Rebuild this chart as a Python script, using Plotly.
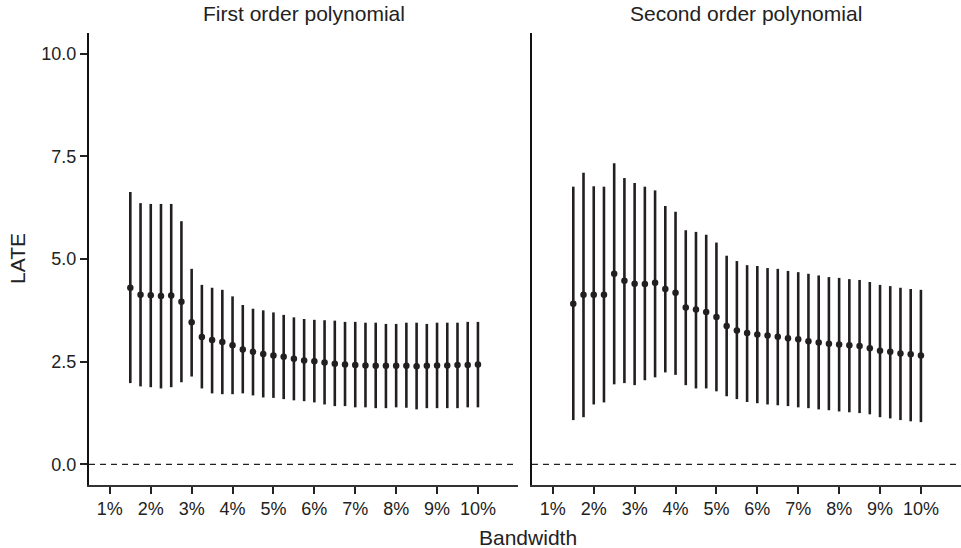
import plotly.graph_objects as go

bandwidth = [1.5, 1.75, 2.0, 2.25, 2.5, 2.75, 3.0, 3.25, 3.5, 3.75, 4.0, 4.25, 4.5, 4.75,
             5.0, 5.25, 5.5, 5.75, 6.0, 6.25, 6.5, 6.75, 7.0, 7.25, 7.5, 7.75, 8.0, 8.25,
             8.5, 8.75, 9.0, 9.25, 9.5, 9.75, 10.0]

first_est = [4.30, 4.13, 4.12, 4.10, 4.11, 3.96, 3.46, 3.10, 3.03, 2.98, 2.90, 2.80, 2.74, 2.69,
             2.65, 2.62, 2.57, 2.53, 2.51, 2.48, 2.45, 2.43, 2.42, 2.41, 2.40, 2.40, 2.40, 2.40,
             2.39, 2.40, 2.41, 2.41, 2.42, 2.42, 2.43]
first_lo = [1.98, 1.90, 1.88, 1.85, 1.88, 2.00, 2.14, 1.85, 1.73, 1.71, 1.71, 1.73, 1.68, 1.63,
            1.62, 1.59, 1.56, 1.54, 1.51, 1.46, 1.42, 1.42, 1.39, 1.39, 1.37, 1.37, 1.39, 1.38,
            1.34, 1.37, 1.37, 1.37, 1.37, 1.39, 1.39]
first_hi = [6.63, 6.36, 6.34, 6.34, 6.34, 5.92, 4.76, 4.37, 4.30, 4.25, 4.09, 3.88, 3.79, 3.75,
            3.70, 3.64, 3.58, 3.54, 3.52, 3.51, 3.50, 3.47, 3.47, 3.45, 3.45, 3.42, 3.42, 3.45,
            3.45, 3.42, 3.45, 3.45, 3.45, 3.47, 3.47]

second_est = [3.91, 4.13, 4.13, 4.13, 4.64, 4.47, 4.40, 4.39, 4.42, 4.27, 4.18, 3.82, 3.77, 3.71,
              3.59, 3.37, 3.26, 3.20, 3.16, 3.14, 3.11, 3.07, 3.05, 3.00, 2.97, 2.94, 2.92, 2.90,
              2.88, 2.83, 2.77, 2.74, 2.70, 2.68, 2.65]
second_lo = [1.08, 1.15, 1.46, 1.51, 1.95, 1.98, 1.93, 2.05, 2.12, 2.24, 2.18, 1.93, 1.85, 1.85,
             1.78, 1.66, 1.59, 1.52, 1.49, 1.46, 1.44, 1.42, 1.39, 1.37, 1.34, 1.32, 1.29, 1.27,
             1.25, 1.22, 1.15, 1.12, 1.08, 1.05, 1.03]
second_hi = [6.76, 7.10, 6.77, 6.76, 7.33, 6.97, 6.85, 6.76, 6.67, 6.29, 6.15, 5.70, 5.66, 5.59,
             5.40, 5.08, 4.95, 4.85, 4.83, 4.78, 4.76, 4.71, 4.68, 4.64, 4.60, 4.56, 4.54, 4.51,
             4.49, 4.44, 4.37, 4.34, 4.30, 4.27, 4.25]

panel_titles = ["First order polynomial", "Second order polynomial"]
x_tickvals = [1, 2, 3, 4, 5, 6, 7, 8, 9, 10]
x_ticktext = ["1%", "2%", "3%", "4%", "5%", "6%", "7%", "8%", "9%", "10%"]
y_tickvals = [0.0, 2.5, 5.0, 7.5, 10.0]
y_ticktext = ["0.0", "2.5", "5.0", "7.5", "10.0"]

INK = "#231f20"
TXT = "#222222"
FONT = "Liberation Sans, Arial, sans-serif"

fig = go.Figure()

panels = [(first_est, first_lo, first_hi, "x", "y"),
          (second_est, second_lo, second_hi, "x2", "y2")]
for est, lo, hi, xa, ya in panels:
    fig.add_trace(go.Scatter(
        x=bandwidth, y=est, mode="markers",
        marker=dict(color=INK, size=6.5),
        error_y=dict(type="data", symmetric=False,
                     array=[h - e for h, e in zip(hi, est)],
                     arrayminus=[e - l for e, l in zip(est, lo)],
                     color=INK, thickness=2.6, width=0),
        xaxis=xa, yaxis=ya, showlegend=False, cliponaxis=False))
    fig.add_shape(type="line", xref=f"{xa} domain", yref=ya, x0=0, x1=1, y0=0, y1=0,
                  line=dict(color=INK, width=1.2, dash="6px,5px"))

xcommon = dict(range=[0.49, 10.98], tickvals=x_tickvals, ticktext=x_ticktext,
               showgrid=False, zeroline=False, showline=True, linecolor="#333333",
               linewidth=1.5, ticks="outside", ticklen=7, tickwidth=1.5, tickcolor=TXT,
               tickfont=dict(family=FONT, size=18, color=TXT), automargin=False)
ycommon = dict(range=[-0.5, 10.5], showgrid=False, zeroline=False, showline=True,
               linecolor="#111111", linewidth=2, automargin=False)

fig.update_layout(
    width=961, height=548,
    margin=dict(l=89, r=0, t=33, b=63, autoexpand=False),
    paper_bgcolor="white", plot_bgcolor="white",
    font=dict(family=FONT, color=TXT),
    xaxis=dict(domain=[0, 0.492], **xcommon),
    xaxis2=dict(domain=[0.508, 1], anchor="y2", **xcommon),
    yaxis=dict(tickvals=y_tickvals, ticktext=y_ticktext, ticks="outside", ticklen=7,
               tickwidth=1.5, tickcolor=TXT,
               tickfont=dict(family=FONT, size=18, color=TXT), **ycommon),
    yaxis2=dict(anchor="x2", showticklabels=False, ticks="", **ycommon),
    annotations=[
        dict(text=panel_titles[0], xref="x domain", yref="paper", x=0.5, y=1, yshift=20,
             xanchor="center", yanchor="middle", showarrow=False,
             font=dict(family=FONT, size=21, color=TXT)),
        dict(text=panel_titles[1], xref="x2 domain", yref="paper", x=0.5, y=1, yshift=20,
             xanchor="center", yanchor="middle", showarrow=False,
             font=dict(family=FONT, size=21, color=TXT)),
        dict(text="Bandwidth", xref="paper", yref="paper", x=0.5, y=0, yshift=-52, xshift=3,
             xanchor="center", yanchor="middle", showarrow=False,
             font=dict(family=FONT, size=21, color=TXT)),
        dict(text="LATE", xref="paper", yref="paper", x=0, y=0.5, xshift=-72,
             xanchor="center", yanchor="middle", textangle=-90, showarrow=False,
             font=dict(family=FONT, size=21, color=TXT)),
    ],
)

fig.write_html("out.html", config={"displayModeBar": False},
               post_script="document.body.style.margin='0';")
